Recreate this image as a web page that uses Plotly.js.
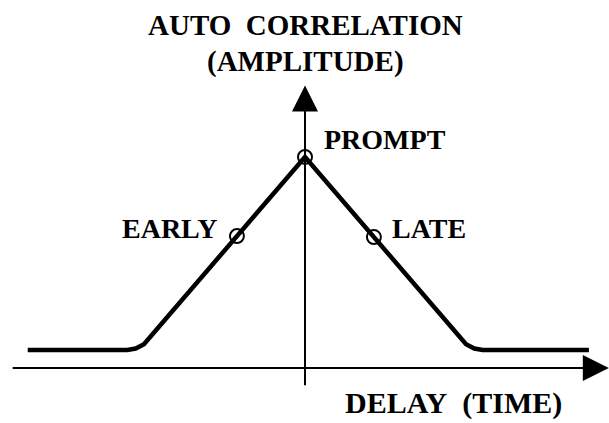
<!DOCTYPE html>
<html>
<head>
<meta charset="utf-8">
<script src="https://cdn.plot.ly/plotly-3.0.1.min.js"></script>
<style>
  html, body { margin: 0; padding: 0; background: #fff; }
  #chart { width: 609px; height: 423px; }
</style>
</head>
<body>
<div id="chart"></div>
<script>
// autocorrelation curve, delay in chips, amplitude normalised to prompt = 1
var delayX = [-1.67, -1.07, -1.02, -0.97, -0.93, 0, 0.93, 0.97, 1.02, 1.07, 1.71];
var ampY = [0, 0, 0.008, 0.03, 0.07, 1, 0.07, 0.03, 0.008, 0, 0];

// early / prompt / late correlator taps
var tapNames = ["EARLY", "PROMPT", "LATE"];
var tapX = [-0.41, 0, 0.415];
var tapY = [0.59, 1.0, 0.585];

var serif = "Liberation Serif, Times New Roman, serif";

var traces = [
  {
    x: delayX,
    y: ampY,
    type: "scatter",
    mode: "lines",
    line: { color: "#000", width: 4.5 },
    hoverinfo: "skip"
  },
  {
    x: tapX,
    y: tapY,
    text: tapNames,
    type: "scatter",
    mode: "markers",
    marker: {
      symbol: "circle-open",
      size: 14,
      color: "#000",
      line: { color: "#000", width: 2 }
    },
    hoverinfo: "text"
  }
];

function label(txt, x, y, xanchor, size) {
  return {
    text: "<b>" + txt + "</b>",
    x: x,
    y: y,
    xref: "x",
    yref: "y",
    xanchor: xanchor,
    yanchor: "middle",
    showarrow: false,
    font: { family: serif, size: size || 28, color: "#000" }
  };
}

// axis lines with arrow heads
function axisArrow(x, y, ax, ay) {
  return {
    x: x,
    y: y,
    ax: ax,
    ay: ay,
    xref: "x",
    yref: "y",
    axref: "x",
    ayref: "y",
    text: "",
    showarrow: true,
    arrowhead: 2,
    arrowsize: 2.6,
    arrowwidth: 2,
    arrowcolor: "#000"
  };
}

var layout = {
  width: 609,
  height: 423,
  margin: { l: 0, r: 0, t: 0, b: 0 },
  paper_bgcolor: "#fff",
  plot_bgcolor: "#fff",
  showlegend: false,
  xaxis: { range: [-1.837, 1.831], visible: false, fixedrange: true },
  yaxis: { range: [-0.378, 1.813], visible: false, fixedrange: true },
  annotations: [
    axisArrow(1.83, -0.093, -1.77, -0.093),
    axisArrow(0, 1.37, 0, -0.19),
    label("AUTO\u00a0 CORRELATION", 0.005, 1.684, "center", 29),
    label("(AMPLITUDE)", 0.005, 1.497, "center", 29),
    label("PROMPT", 0.10, 1.088, "left"),
    label("EARLY", -0.52, 0.632, "right"),
    label("LATE", 0.512, 0.632, "left"),
    label("DELAY\u00a0 (TIME)", 0.229, -0.275, "left", 30)
  ]
};

Plotly.newPlot("chart", traces, layout, { displayModeBar: false, staticPlot: true });
</script>
</body>
</html>
